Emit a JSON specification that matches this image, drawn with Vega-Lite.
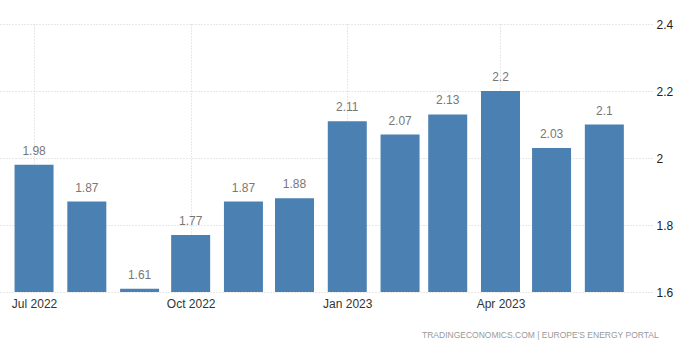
{
  "$schema": "https://vega.github.io/schema/vega-lite/v6.json",
  "width": 652,
  "height": 268,
  "autosize": "none",
  "padding": {"left": 0, "top": 24, "right": 48, "bottom": 61},
  "background": "white",
  "config": {"view": {"stroke": null}, "font": "Liberation Sans"},
  "title": {
    "text": "TRADINGECONOMICS.COM  |  EUROPE'S ENERGY PORTAL",
    "orient": "bottom",
    "anchor": "end",
    "fontSize": 8.5,
    "fontWeight": "normal",
    "color": "#999999",
    "offset": 22,
    "dx": -14
  },
  "data": {
    "values": [
      {"date": "2022-07-01", "value": 1.98},
      {"date": "2022-08-01", "value": 1.87},
      {"date": "2022-09-01", "value": 1.61},
      {"date": "2022-10-01", "value": 1.77},
      {"date": "2022-11-01", "value": 1.87},
      {"date": "2022-12-01", "value": 1.88},
      {"date": "2023-01-01", "value": 2.11},
      {"date": "2023-02-01", "value": 2.07},
      {"date": "2023-03-01", "value": 2.13},
      {"date": "2023-04-01", "value": 2.2},
      {"date": "2023-05-01", "value": 2.03},
      {"date": "2023-06-01", "value": 2.1}
    ]
  },
  "encoding": {
    "x": {
      "field": "date",
      "type": "temporal",
      "scale": {
        "type": "utc",
        "padding": 0,
        "domain": [
          {"year": 2022, "month": 6, "date": 11, "utc": true},
          {"year": 2023, "month": 6, "date": 29, "utc": true}
        ]
      },
      "axis": {
        "title": null,
        "values": [
          {"year": 2022, "month": 7, "date": 1, "utc": true},
          {"year": 2022, "month": 10, "date": 1, "utc": true},
          {"year": 2023, "month": 1, "date": 1, "utc": true},
          {"year": 2023, "month": 4, "date": 1, "utc": true}
        ],
        "format": "%b %Y",
        "domain": false,
        "ticks": false,
        "grid": true,
        "gridDash": [1, 2],
        "gridColor": "#d0d0d0",
        "labelFontSize": 12,
        "labelColor": "#333333",
        "labelPadding": 6
      }
    },
    "y": {
      "field": "value",
      "type": "quantitative",
      "scale": {"domain": [1.6, 2.4], "zero": false},
      "axis": {
        "title": null,
        "orient": "right",
        "values": [1.6, 1.8, 2.0, 2.2, 2.4],
        "format": "~g",
        "domain": false,
        "ticks": false,
        "grid": true,
        "gridDash": [1, 2],
        "gridColor": "#d0d0d0",
        "labelFontSize": 12,
        "labelColor": "#222222",
        "labelPadding": 4
      }
    }
  },
  "layer": [
    {
      "mark": {"type": "bar", "width": 39, "color": "#4a80b2", "clip": true}
    },
    {
      "mark": {"type": "text", "dy": -7, "baseline": "bottom", "fontSize": 12, "color": "#777777"},
      "encoding": {"text": {"field": "value", "type": "quantitative", "format": "~g"}}
    }
  ]
}
